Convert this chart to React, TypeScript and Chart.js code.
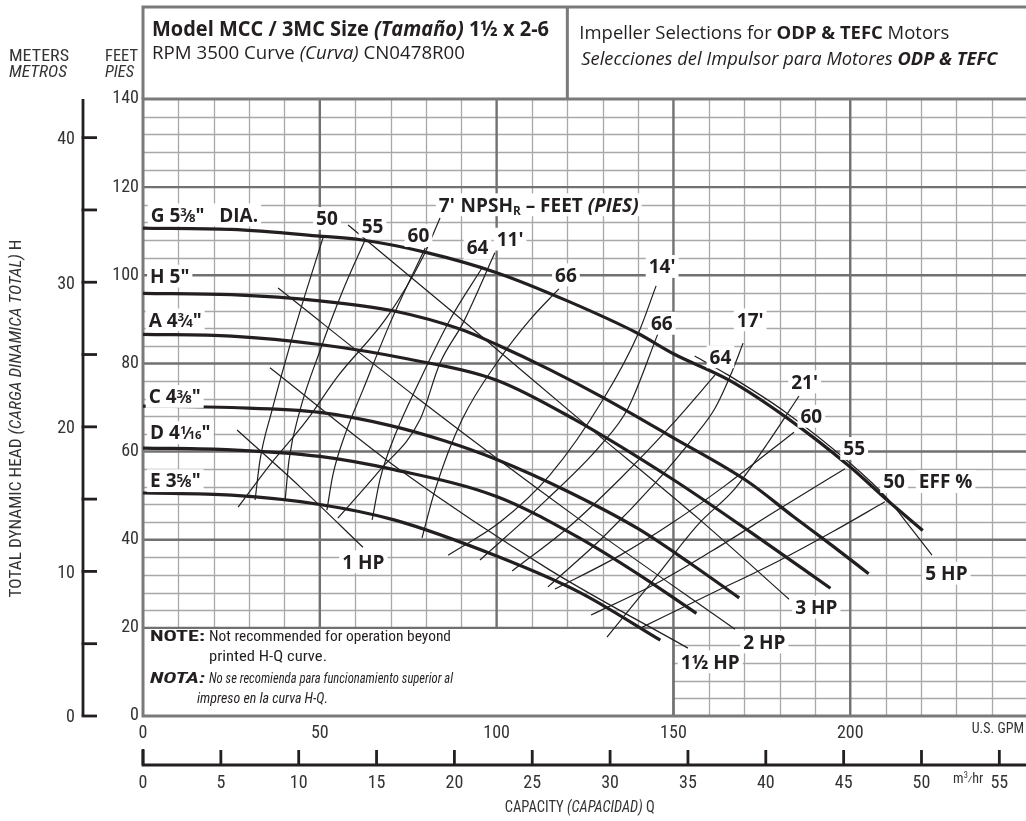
import React, { useEffect, useRef } from 'react';
import { Chart, registerables } from 'chart.js';
Chart.register(...registerables);

const W = 1026;
const H = 821;
const INK = '#231f20';
const SANS = '"Open Sans", "Noto Sans", "DejaVu Sans", sans-serif';
const COND = '"Liberation Sans Narrow", "Roboto Condensed", "DejaVu Sans Condensed", sans-serif';

// ---------- axis ticks ----------
const gpmLabels = [0, 50, 100, 150, 200];
const feetLabels = [0, 20, 40, 60, 80, 100, 120, 140];
const meterLabels = [0, 10, 20, 30, 40];
const meterMarks = [0, 5, 10, 15, 20, 25, 30, 35, 40];
const m3hrLabels = [0, 5, 10, 15, 20, 25, 30, 35, 40, 45, 50, 55];
const gpmGrid = [10, 20, 30, 40, 50, 60, 70, 80, 90, 100, 110, 120, 130, 140, 150, 160, 170, 180, 190, 200, 210, 220, 230, 240];
const feetGrid = [4, 8, 12, 16, 20, 24, 28, 32, 36, 40, 44, 48, 52, 56, 60, 64, 68, 72, 76, 80, 84, 88, 92, 96, 100, 104, 108, 112, 116, 120, 124, 128, 132, 136];
const GPM_PER_M3HR = 4.4029;
const FT_PER_M = 3.2808;
const X_MAX = 249.7;
const Y_MAX = 140;

// ---------- impeller H-Q curves [GPM, feet] ----------
const impG = [[0, 110.7], [25, 110.4], [50, 108.9], [62, 108.0], [80, 105.2], [100, 100.6], [120, 94.2], [140, 86.8], [150, 82.2], [166, 76.1], [182, 67.7], [200, 56.5], [210, 49.3], [220.5, 42.1]];
const impH = [[0, 95.9], [25, 95.6], [50, 94.2], [71, 91.9], [90, 87.7], [100, 84.3], [115, 78.6], [130, 72.3], [150, 63.1], [171, 53.2], [184, 45.2], [195, 38.6], [205.2, 32.3]];
const impA = [[0, 86.6], [25, 86.2], [50, 84.3], [75, 81.0], [100, 76.2], [122, 67.3], [150, 53.6], [172, 41.6], [194.4, 29.0]];
const impC = [[0, 70.3], [25, 70.0], [50, 68.9], [70, 65.9], [85, 62.5], [100, 58.2], [120, 51.0], [140, 42.5], [155, 34.5], [168.6, 26.8]];
const impD = [[0, 60.8], [25, 60.4], [50, 58.9], [71, 55.9], [100, 49.8], [123.6, 40.3], [140, 32.2], [156.5, 23.3]];
const impE = [[0, 50.6], [25, 50.1], [50, 48.0], [71, 44.5], [100, 36.3], [123.6, 28.0], [146.3, 17.2]];

// ---------- efficiency lines ----------
const eff50L = [[31.7, 49.0], [33.1, 58.1], [36.5, 69.4], [41.6, 84.2], [45.8, 95.5], [50.9, 108.5]];
const eff55L = [[40.2, 49.0], [41.3, 58.1], [44.4, 69.4], [50.1, 83.0], [56.6, 96.7], [62.8, 108.0]];
const eff60L = [[52.0, 46.7], [53.7, 54.7], [57.1, 63.8], [62.2, 74.0], [69.9, 89.2], [79.8, 106.2]];
const eff64L = [[64.8, 44.5], [67.0, 53.6], [71.3, 63.8], [78.3, 76.2], [86.8, 89.9], [95.9, 101.7]];
const eff66L = [[78.9, 40.4], [82.6, 51.3], [90.2, 67.2], [101.0, 81.2], [109.4, 89.9], [117.6, 96.9]];
const eff66R = [[95.3, 35.4], [114.3, 49.2], [129.5, 61.5], [137.2, 69.9], [145.6, 86.7]];
const eff64R = [[104.4, 32.9], [120, 42.6], [135, 53.9], [150, 66.5], [161.8, 77.4]];
const eff60R = [[116.5, 28.8], [135, 36.5], [150, 44.0], [165, 52.5], [184.1, 64.4]];
const eff55R = [[126.7, 22.9], [145, 30.0], [161.2, 37.6], [180, 47.0], [198.5, 56.1]];
const eff50R = [[140.8, 20.0], [160, 27.5], [180, 35.3], [195, 41.8], [209.8, 48.6]];

// ---------- NPSHr lines ----------
const npsh7 = [[26.9, 47.4], [35.9, 57.0], [46.4, 67.2], [54.9, 76.9], [69.0, 90.5], [79.2, 104.2], [84.0, 113.0]];
const npsh11 = [[55.1, 44.9], [67.0, 55.8], [78.3, 67.2], [84.0, 80.1], [90.5, 89.2], [99.5, 105.1]];
const npsh14 = [[86.3, 36.5], [101.0, 44.0], [115.1, 54.7], [130.4, 72.2], [140.0, 86.7], [145.1, 97.6]];
const npsh17 = [[114.5, 29.3], [130, 40.5], [145, 53.0], [156, 63.5], [161.8, 69.9], [166.5, 78.0], [169.7, 84.6]];
const npsh21 = [[131.2, 17.9], [145, 31.5], [157, 43.5], [167.4, 51.6], [176.9, 62.2], [185.5, 72.6]];

// ---------- horsepower lines ----------
const hp1 = [[26.6, 64.9], [44.4, 52.0], [62.2, 38.3]];
const hp15 = [[35.9, 79.0], [72.7, 55.8], [115.1, 33.1], [154.1, 15.4]];
const hp2 = [[38.2, 97.1], [78.3, 71.7], [123.6, 44.5], [167.4, 19.7]];
const hp3 = [[58.0, 111.4], [89.6, 90.3], [123.6, 67.2], [157.5, 44.5], [182.7, 26.5]];
const hp5 = [[156.0, 81.7], [165.4, 77.4], [181.6, 69.0], [199.9, 57.4], [210.1, 49.7], [216.9, 42.9], [223.1, 36.5]];

const thickCurves = [impG, impH, impA, impC, impD, impE];
const thinCurves = [eff50L, eff55L, eff60L, eff64L, eff66L, eff66R, eff64R, eff60R, eff55R, eff50R,
  npsh7, npsh11, npsh14, npsh17, npsh21, hp1, hp15, hp2, hp3, hp5];

// ---------- text helpers ----------
type Seg = { t: string; b?: boolean; i?: boolean; sc?: number; dy?: number };
type RichOpts = { size: number; fam: string; align?: 'left' | 'center' | 'right'; fitW?: number; bg?: boolean; color?: string; padX?: number; weight?: string };

function drawRich(ctx: CanvasRenderingContext2D, segs: Seg[], x: number, y: number, o: RichOpts) {
  ctx.save();
  const fontOf = (s: Seg) => `${s.i ? 'italic ' : ''}${s.b ? 'bold' : (o.weight || 'normal')} ${(o.size * (s.sc || 1)).toFixed(2)}px ${o.fam}`;
  const ws = segs.map((s) => { ctx.font = fontOf(s); return ctx.measureText(s.t).width; });
  const raw = ws.reduce((a, b) => a + b, 0);
  const sx = o.fitW ? o.fitW / raw : 1;
  const tw = raw * sx;
  const align = o.align || 'left';
  const x0 = align === 'center' ? x - tw / 2 : align === 'right' ? x - tw : x;
  const base = y + o.size * 0.36;
  if (o.bg) {
    const p = o.padX ?? 3;
    ctx.fillStyle = '#ffffff';
    ctx.fillRect(x0 - p, y - o.size * 0.6, tw + 2 * p, o.size * 1.2);
  }
  ctx.fillStyle = o.color || INK;
  ctx.textBaseline = 'alphabetic';
  ctx.textAlign = 'left';
  ctx.translate(x0, base);
  ctx.scale(sx, 1);
  let cx = 0;
  segs.forEach((s, k) => { ctx.font = fontOf(s); ctx.fillText(s.t, cx, (s.dy || 0) * o.size); cx += ws[k]; });
  ctx.restore();
}

const frac = (n: string, d: string): Seg[] => [
  { t: n, b: true, sc: 0.6, dy: -0.3 },
  { t: '\u2044', b: true, sc: 0.85 },
  { t: d, b: true, sc: 0.6 },
];

// ---------- curve labels (anchor in GPM / feet) ----------
type Lab = { segs: Seg[]; x: number; y: number; align: 'left' | 'center' };
const curveLabels: Lab[] = [
  { segs: [{ t: 'G 5', b: true }, ...frac('3', '8'), { t: '"   DIA.', b: true }], x: 2.2, y: 113.7, align: 'left' },
  { segs: [{ t: 'H 5"', b: true }], x: 2.0, y: 99.8, align: 'left' },
  { segs: [{ t: 'A 4', b: true }, ...frac('3', '4'), { t: '"', b: true }], x: 1.6, y: 89.9, align: 'left' },
  { segs: [{ t: 'C 4', b: true }, ...frac('3', '8'), { t: '"', b: true }], x: 1.6, y: 72.5, align: 'left' },
  { segs: [{ t: 'D 4', b: true }, ...frac('1', '16'), { t: '"', b: true }], x: 2.0, y: 64.3, align: 'left' },
  { segs: [{ t: 'E 3', b: true }, ...frac('5', '8'), { t: '"', b: true }], x: 2.0, y: 53.4, align: 'left' },
  { segs: [{ t: '50', b: true }], x: 52.0, y: 112.9, align: 'center' },
  { segs: [{ t: '55', b: true }], x: 64.9, y: 111.2, align: 'center' },
  { segs: [{ t: '60', b: true }], x: 77.9, y: 109.0, align: 'center' },
  { segs: [{ t: "7'", b: true }], x: 85.9, y: 116.0, align: 'center' },
  { segs: [{ t: 'NPSH', b: true }, { t: 'R', b: true, sc: 0.62, dy: 0.18 }, { t: ' \u2013 FEET ', b: true }, { t: '(PIES)', b: true, i: true }], x: 89.8, y: 116.0, align: 'left' },
  { segs: [{ t: '64', b: true }], x: 94.6, y: 106.3, align: 'center' },
  { segs: [{ t: "11'", b: true }], x: 103.8, y: 108.2, align: 'center' },
  { segs: [{ t: '66', b: true }], x: 119.6, y: 100.1, align: 'center' },
  { segs: [{ t: "14'", b: true }], x: 146.8, y: 102.0, align: 'center' },
  { segs: [{ t: '66', b: true }], x: 146.7, y: 89.1, align: 'center' },
  { segs: [{ t: "17'", b: true }], x: 171.7, y: 89.9, align: 'center' },
  { segs: [{ t: '64', b: true }], x: 163.3, y: 81.5, align: 'center' },
  { segs: [{ t: "21'", b: true }], x: 187.1, y: 75.8, align: 'center' },
  { segs: [{ t: '60', b: true }], x: 189.0, y: 68.0, align: 'center' },
  { segs: [{ t: '55', b: true }], x: 201.1, y: 60.7, align: 'center' },
  { segs: [{ t: '50', b: true }], x: 212.4, y: 53.2, align: 'center' },
  { segs: [{ t: 'EFF %', b: true }], x: 219.4, y: 53.2, align: 'left' },
  { segs: [{ t: '1 HP', b: true }], x: 62.3, y: 35.0, align: 'center' },
  { segs: [{ t: '1\u00bd HP', b: true }], x: 160.4, y: 12.3, align: 'center' },
  { segs: [{ t: '2 HP', b: true }], x: 175.7, y: 16.8, align: 'center' },
  { segs: [{ t: '3 HP', b: true }], x: 190.4, y: 24.7, align: 'center' },
  { segs: [{ t: '5 HP', b: true }], x: 227.2, y: 32.4, align: 'center' },
];

const decor = {
  id: 'decor',
  beforeDraw(chart: any) {
    const ctx: CanvasRenderingContext2D = chart.ctx;
    ctx.save();
    ctx.fillStyle = '#ffffff';
    ctx.fillRect(0, 0, chart.width, chart.height);
    ctx.restore();
  },
  beforeDatasetsDraw(chart: any) {
    const ctx: CanvasRenderingContext2D = chart.ctx;
    const xs = chart.scales.x;
    const ys = chart.scales.y;
    const a = chart.chartArea;
    ctx.save();
    // minor grid
    ctx.strokeStyle = '#a8a8a8';
    ctx.lineWidth = 1.3;
    gpmGrid.filter((v) => v % 50 !== 0).forEach((v) => {
      const px = Math.round(xs.getPixelForValue(v)) + 0.5;
      ctx.beginPath(); ctx.moveTo(px, a.top); ctx.lineTo(px, a.bottom); ctx.stroke();
    });
    feetGrid.filter((v) => v % 20 !== 0).forEach((v) => {
      const py = Math.round(ys.getPixelForValue(v)) + 0.5;
      ctx.beginPath(); ctx.moveTo(a.left, py); ctx.lineTo(a.right, py); ctx.stroke();
    });
    // major grid
    ctx.strokeStyle = '#717171';
    ctx.lineWidth = 2.4;
    gpmGrid.filter((v) => v % 50 === 0).forEach((v) => {
      const px = xs.getPixelForValue(v);
      ctx.beginPath(); ctx.moveTo(px, a.top); ctx.lineTo(px, a.bottom); ctx.stroke();
    });
    feetGrid.filter((v) => v % 20 === 0).forEach((v) => {
      const py = ys.getPixelForValue(v);
      ctx.beginPath(); ctx.moveTo(a.left, py); ctx.lineTo(a.right, py); ctx.stroke();
    });
    // note box
    const bx1 = xs.getPixelForValue(150);
    const by0 = ys.getPixelForValue(20);
    ctx.fillStyle = '#ffffff';
    ctx.fillRect(a.left, by0 + 1.2, bx1 - a.left - 1.2, a.bottom - by0 - 1.2);
    ctx.beginPath(); ctx.moveTo(bx1, by0); ctx.lineTo(bx1, a.bottom); ctx.stroke();
    // plot border
    ctx.strokeStyle = '#7a7a7a';
    ctx.lineWidth = 3;
    ctx.beginPath();
    ctx.moveTo(a.right + 5, a.top); ctx.lineTo(a.left, a.top); ctx.lineTo(a.left, a.bottom); ctx.lineTo(a.right + 5, a.bottom);
    ctx.stroke();
    // header box
    const hTop = a.top - 92;
    const div = xs.getPixelForValue(120);
    ctx.beginPath();
    ctx.moveTo(a.left, a.top); ctx.lineTo(a.left, hTop); ctx.lineTo(a.right + 5, hTop);
    ctx.moveTo(div, hTop); ctx.lineTo(div, a.top);
    ctx.stroke();
    ctx.restore();
  },
  afterDatasetsDraw(chart: any) {
    const ctx: CanvasRenderingContext2D = chart.ctx;
    const xs = chart.scales.x;
    const ys = chart.scales.y;
    curveLabels.forEach((l) => {
      drawRich(ctx, l.segs, xs.getPixelForValue(l.x), ys.getPixelForValue(l.y), { size: 19, fam: SANS, align: l.align, bg: true, padX: 3 });
    });
  },
  afterDraw(chart: any) {
    const ctx: CanvasRenderingContext2D = chart.ctx;
    const xs = chart.scales.x;
    const ys = chart.scales.y;
    const a = chart.chartArea;
    ctx.save();
    // header texts
    const hTop = a.top - 92;
    const div = xs.getPixelForValue(120);
    drawRich(ctx, [{ t: 'Model MCC / 3MC Size ', b: true }, { t: '(Tama\u00f1o)', b: true, i: true }, { t: ' 1\u00bd x 2-6', b: true }], a.left + 9, hTop + 21, { size: 21, fam: SANS, fitW: 397 });
    drawRich(ctx, [{ t: 'RPM 3500 Curve ' }, { t: '(Curva)', i: true }, { t: ' CN0478R00' }], a.left + 9, hTop + 45, { size: 18.5, fam: SANS, fitW: 313 });
    drawRich(ctx, [{ t: 'Impeller Selections for ' }, { t: 'ODP & TEFC', b: true }, { t: ' Motors' }], div + 12, hTop + 25, { size: 18.5, fam: SANS, fitW: 370 });
    drawRich(ctx, [{ t: 'Selecciones del Impulsor para Motores ', i: true }, { t: 'ODP & TEFC', b: true, i: true }], div + 14, hTop + 51, { size: 18.5, fam: SANS, fitW: 416 });

    // left headers
    drawRich(ctx, [{ t: 'METERS' }], 9, 55, { size: 17, fam: COND, fitW: 60, color: '#333' });
    drawRich(ctx, [{ t: 'METROS', i: true }], 9, 71, { size: 17, fam: COND, fitW: 58, color: '#333' });
    drawRich(ctx, [{ t: 'FEET' }], a.left - 5, 55, { size: 17, fam: COND, align: 'right', fitW: 33, color: '#333' });
    drawRich(ctx, [{ t: 'PIES', i: true }], a.left - 9, 71, { size: 17, fam: COND, align: 'right', fitW: 29, color: '#333' });

    // feet tick labels
    feetLabels.forEach((v) => {
      drawRich(ctx, [{ t: String(v) }], a.left - 4, ys.getPixelForValue(v) - 2, { size: 18, fam: COND, align: 'right', color: '#333' });
    });

    // meters axis
    const mx = a.left - 60;
    ctx.strokeStyle = INK;
    ctx.lineWidth = 2.8;
    ctx.beginPath();
    ctx.moveTo(mx, ys.getPixelForValue(0)); ctx.lineTo(mx, a.top);
    ctx.stroke();
    meterMarks.forEach((m) => {
      const py = ys.getPixelForValue(m * FT_PER_M);
      ctx.beginPath(); ctx.moveTo(mx - 1.4, py); ctx.lineTo(mx + 14, py); ctx.stroke();
    });
    meterLabels.forEach((m) => {
      drawRich(ctx, [{ t: String(m) }], mx - 8, ys.getPixelForValue(m * FT_PER_M), { size: 18, fam: COND, align: 'right', color: '#333' });
    });

    // GPM labels
    gpmLabels.forEach((v) => {
      drawRich(ctx, [{ t: String(v) }], xs.getPixelForValue(v), a.bottom + 16, { size: 18, fam: COND, align: 'center', color: '#333' });
    });
    drawRich(ctx, [{ t: 'U.S. GPM' }], W - 2, a.bottom + 12, { size: 14, fam: COND, align: 'right', color: '#333' });

    // m3/hr axis
    const ay = a.bottom + 49;
    ctx.strokeStyle = INK;
    ctx.lineWidth = 2.8;
    ctx.beginPath();
    ctx.moveTo(xs.getPixelForValue(0), ay - 16); ctx.lineTo(xs.getPixelForValue(0), ay); ctx.lineTo(W, ay);
    ctx.stroke();
    m3hrLabels.forEach((m) => {
      const px = xs.getPixelForValue(m * GPM_PER_M3HR);
      ctx.beginPath(); ctx.moveTo(px, ay); ctx.lineTo(px, ay - 15); ctx.stroke();
      drawRich(ctx, [{ t: String(m) }], px, ay + 17, { size: 18, fam: COND, align: 'center', color: '#333' });
    });
    drawRich(ctx, [{ t: 'm' }, { t: '3', sc: 0.6, dy: -0.35 }, { t: '\u2044', sc: 0.8 }, { t: 'hr' }], xs.getPixelForValue(53.0 * GPM_PER_M3HR), ay + 13, { size: 14, fam: COND, align: 'center', color: '#333' });
    drawRich(ctx, [{ t: 'CAPACITY ' }, { t: '(CAPACIDAD)', i: true }, { t: ' Q' }], xs.getPixelForValue(123.5), ay + 41, { size: 16, fam: COND, align: 'center', fitW: 150, color: '#333' });

    // y title
    ctx.save();
    ctx.translate(15, ys.getPixelForValue(67.5));
    ctx.rotate(-Math.PI / 2);
    drawRich(ctx, [{ t: 'TOTAL DYNAMIC HEAD ' }, { t: '(CARGA DINAMICA TOTAL)', i: true }, { t: ' H' }], 0, 0, { size: 16, fam: COND, align: 'center', fitW: 358, color: '#333' });
    ctx.restore();

    // note
    const nb = ys.getPixelForValue(20);
    const nx = a.left + 7;
    drawRich(ctx, [{ t: 'NOTE:', b: true }], nx, nb + 8, { size: 14, fam: COND, fitW: 55 });
    drawRich(ctx, [{ t: 'Not recommended for operation beyond' }], nx + 59, nb + 8, { size: 14, fam: COND, fitW: 242 });
    drawRich(ctx, [{ t: 'printed H-Q curve.' }], nx + 59, nb + 28, { size: 14, fam: COND, fitW: 118 });
    drawRich(ctx, [{ t: 'NOTA:', b: true, i: true }], nx, nb + 50, { size: 14, fam: COND, fitW: 55 });
    drawRich(ctx, [{ t: 'No se recomienda para funcionamiento superior al', i: true }], nx + 59, nb + 50, { size: 14, fam: COND, fitW: 244 });
    drawRich(ctx, [{ t: 'impreso en la curva H-Q.', i: true }], nx + 47, nb + 70, { size: 14, fam: COND, fitW: 131 });
    ctx.restore();
  },
};

export default function App() {
  const ref = useRef<HTMLCanvasElement>(null);
  useEffect(() => {
    const canvas = ref.current;
    if (!canvas) return;
    const mk = (pts: number[][], lw: number) => ({
      data: pts.map(([x, y]) => ({ x, y })),
      showLine: true,
      borderColor: INK,
      backgroundColor: INK,
      borderWidth: lw,
      pointRadius: 0,
      pointHoverRadius: 0,
      fill: false,
      cubicInterpolationMode: 'monotone' as const,
      borderCapStyle: 'butt' as const,
    });
    const datasets = [
      ...thinCurves.map((c) => mk(c, 1.2)),
      ...thickCurves.map((c) => mk(c, 3.2)),
    ];
    const chart = new Chart(canvas, {
      type: 'scatter',
      data: { datasets },
      options: {
        responsive: false,
        animation: false,
        devicePixelRatio: 1,
        events: [],
        layout: { padding: { left: 143, right: 0, top: 99, bottom: 105 } },
        scales: {
          x: { type: 'linear', min: 0, max: X_MAX, display: false },
          y: { type: 'linear', min: 0, max: Y_MAX, display: false },
        },
        plugins: { legend: { display: false }, tooltip: { enabled: false } },
      } as any,
      plugins: [decor],
    });
    return () => chart.destroy();
  }, []);
  return (
    <div style={{ position: 'fixed', left: 0, top: 0, width: W, height: H, background: '#fff', overflow: 'hidden' }}>
      <canvas ref={ref} width={W} height={H} style={{ width: W, height: H, display: 'block' }} />
    </div>
  );
}
